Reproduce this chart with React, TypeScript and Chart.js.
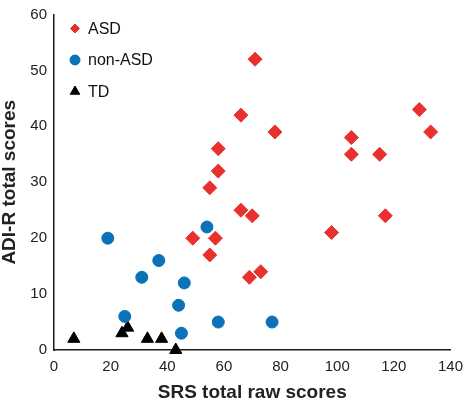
import React, { useEffect, useRef } from "react";
import { Chart, registerables } from "chart.js";
import { drawPoint } from "chart.js/helpers";

Chart.register(...registerables);

// ASD (red diamonds)
const asdX = [71, 66, 78, 105, 105, 115, 129, 133, 58, 58, 55, 66, 70, 117, 98, 69, 73, 49, 57, 55];
const asdY = [52, 42, 39, 38, 35, 35, 43, 39, 36, 32, 29, 25, 24, 24, 21, 13, 14, 20, 20, 17];
// non-ASD (blue circles)
const nonX = [19, 54, 37, 31, 46, 44, 25, 58, 45, 77];
const nonY = [20, 22, 16, 13, 12, 8, 6, 5, 3, 5];
// TD (black triangles)
const tdX = [7, 24, 26, 33, 38, 43];
const tdY = [2, 3, 4, 2, 2, 0];

const seriesLabels = ["ASD", "non-ASD", "TD"];
const xTitle = "SRS total raw scores";
const yTitle = "ADI-R total scores";

const RED = "#e8312f";
const BLUE = "#0b72b9";
const BLACK = "#000000";

const toPoints = (xs: number[], ys: number[]) => xs.map((x, i) => ({ x, y: ys[i] }));

const legendRadii = [4.5, 5, 5.5];

const insideLegend = {
  id: "insideLegend",
  afterDraw(chart: any) {
    const { ctx, chartArea } = chart;
    const mx = chartArea.left + 21;
    let y = chartArea.top + 14;
    chart.data.datasets.forEach((ds: any, i: number) => {
      ctx.save();
      ctx.fillStyle = ds.backgroundColor;
      ctx.strokeStyle = ds.borderColor;
      ctx.lineWidth = 1;
      drawPoint(ctx, { pointStyle: ds.pointStyle, rotation: 0, radius: legendRadii[i], borderWidth: 1 } as any, mx, y);
      ctx.fillStyle = "#111";
      ctx.font = '16px "Liberation Sans", Arial, sans-serif';
      ctx.textBaseline = "middle";
      ctx.textAlign = "left";
      ctx.fillText(ds.label, mx + 13, y + 1);
      ctx.restore();
      y += 31.5;
    });
  },
};

export default function App() {
  const ref = useRef<HTMLCanvasElement>(null);
  useEffect(() => {
    if (!ref.current) return;
    const chart = new Chart(ref.current, {
      type: "scatter",
      data: {
        datasets: [
          {
            label: seriesLabels[0],
            data: toPoints(asdX, asdY),
            pointStyle: "rectRot",
            pointRadius: 7,
            borderWidth: 1,
            backgroundColor: RED,
            borderColor: RED,
            clip: false,
          },
          {
            label: seriesLabels[1],
            data: toPoints(nonX, nonY),
            pointStyle: "circle",
            pointRadius: 6,
            borderWidth: 1,
            backgroundColor: BLUE,
            borderColor: BLUE,
            clip: false,
          },
          {
            label: seriesLabels[2],
            data: toPoints(tdX, tdY),
            pointStyle: "triangle",
            pointRadius: 7,
            borderWidth: 1,
            backgroundColor: BLACK,
            borderColor: BLACK,
            clip: false,
          },
        ],
      },
      options: {
        animation: false,
        responsive: false,
        events: [],
        layout: { padding: { top: 8, right: 14, left: 0, bottom: 0 } },
        plugins: {
          legend: { display: false },
          tooltip: { enabled: false },
        },
        scales: {
          x: {
            type: "linear",
            min: 0,
            max: 140,
            grid: { display: false, drawTicks: false },
            border: { display: true, color: "#1a1a1a", width: 1.5 },
            ticks: {
              stepSize: 20,
              padding: 9,
              color: "#222",
              font: { family: '"Liberation Sans", Arial, sans-serif', size: 15, lineHeight: 1 },
            },
            title: {
              display: true,
              text: xTitle,
              color: "#222",
              padding: 0,
              font: { family: '"Liberation Sans", Arial, sans-serif', size: 19, weight: "bold", lineHeight: 1.05 },
            },
            afterFit(scale: any) {
              scale.height = 53;
            },
          },
          y: {
            type: "linear",
            min: 0,
            max: 60,
            grid: { display: false, drawTicks: false },
            border: { display: true, color: "#1a1a1a", width: 1.5 },
            ticks: {
              stepSize: 10,
              padding: 7,
              color: "#222",
              font: { family: '"Liberation Sans", Arial, sans-serif', size: 15, lineHeight: 1 },
            },
            title: {
              display: true,
              text: yTitle,
              color: "#222",
              padding: 0,
              font: { family: '"Liberation Sans", Arial, sans-serif', size: 19, weight: "bold", lineHeight: 1.0 },
            },
            afterFit(scale: any) {
              scale.width = 54;
            },
          },
        },
      },
      plugins: [insideLegend],
    });
    return () => chart.destroy();
  }, []);

  return (
    <div style={{ position: "fixed", left: 0, top: 0, width: 472, height: 403, background: "#fff" }}>
      <canvas ref={ref} width={472} height={403} />
    </div>
  );
}
